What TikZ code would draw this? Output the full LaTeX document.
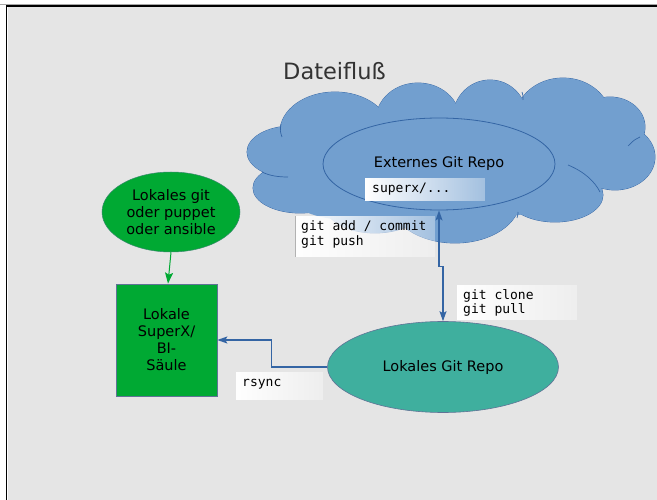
\documentclass[tikz,border=0pt]{standalone}
\usepackage{fontspec}
\setmainfont{DejaVu Sans}
\newfontfamily\dmono{DejaVu Sans Mono}
\usetikzlibrary{shapes.geometric,arrows.meta,fadings}
\definecolor{bgc}{RGB}{229,229,229}
\definecolor{cloudc}{RGB}{114,159,207}
\definecolor{cloudline}{RGB}{52,101,164}
\definecolor{grc}{RGB}{0,169,51}
\definecolor{tealc}{RGB}{63,175,158}
\definecolor{bordc}{RGB}{95,115,150}
\definecolor{titlec}{RGB}{51,51,51}
\tikzfading[name=fadeR, left color=transparent!0, middle color=transparent!0, right color=transparent!65]
\begin{document}
\begin{tikzpicture}[x=1pt,y=-1pt,
  sans/.style={font=\fontsize{14.5}{17}\selectfont, align=center, text=black},
  mono/.style={font=\dmono\fontsize{13}{14.7}\selectfont, align=left, inner sep=0pt, anchor=west, text=black},
  lobe/.style={draw=cloudline, line width=0.8pt},
  lobefill/.style={fill=cloudc},
  crease/.style={draw=cloudline, line width=0.7pt},
  flow/.style={draw=cloudline, line width=1.3pt},
  tipb/.tip={Stealth[length=10pt,width=7pt,inset=2pt]},
  fadebox/.style={fill=white, path fading=fadeR}
]
\useasboundingbox (0,0) rectangle (657,500);
% frame
\fill[white] (0,0) rectangle (657,500);
\fill[bgc] (7.5,7) rectangle (657,500);
\draw[gray!70, line width=0.8pt] (0,4.2) -- (657,4.2);
\draw[black, line width=1.7pt] (6.5,500) -- (6.5,5.8) -- (657,5.8);

% title
\node[font=\fontsize{22.5}{26}\selectfont, text=titlec, anchor=base, inner sep=0pt] (title) at (334.5,80) {Dateifluß};

% cloud: outlines of all lobes, then fills on top
\foreach \cx/\cy/\rx/\ry in {335/132/55/40, 418/120/42/37, 490/118/37/38, 563/120/48/42,
    610/127/35/30, 615/157/40/33, 555/195/48/27, 455/200/65/43, 300/188/47/25,
    292/152/45/26, 375/205/50/28}
  \path[lobe] (\cx,\cy) ellipse [x radius=\rx pt, y radius=\ry pt];
\foreach \cx/\cy/\rx/\ry in {335/132/55/40, 418/120/42/37, 490/118/37/38, 563/120/48/42,
    610/127/35/30, 615/157/40/33, 555/195/48/27, 455/200/65/43, 300/188/47/25,
    292/152/45/26, 375/205/50/28, 450/165/165/55, 350/195/60/25}
  \path[lobefill] (\cx,\cy) ellipse [x radius=\rx pt, y radius=\ry pt];
% creases
\path[crease] (282,137) .. controls (280,131) .. (281,124);
\path[crease] (262,172) .. controls (270,176) and (279,177) .. (288,177);
\path[crease] (522,92) .. controls (523,95) .. (523,100);
\path[crease] (640,137) .. controls (634,140) .. (628,146);
\path[crease] (568,165) .. controls (585,172) and (595,182) .. (600,192);
\path[crease] (518,212) .. controls (518,214) .. (517,218);

% external repo ellipse
\node[ellipse, draw=cloudline, line width=0.8pt, fill=cloudc, minimum width=232pt, minimum height=92pt, inner sep=0pt, sans] (ext) at (439,164) {Externes Git Repo};
\path[fadebox] (365,178) rectangle (485,201);
\node[mono] (sx) at (372,189.5) {superx/...};

% git add label
\path[fadebox] (295,216) rectangle (435,257);
\draw[gray!60, line width=0.6pt] (295.3,216) -- (295.3,257);
\node[mono] (addlbl) at (301,234.5) {git add / commit\\git push};

% local repo
\node[ellipse, draw=bordc, line width=0.6pt, fill=tealc, minimum width=231pt, minimum height=91pt, inner sep=0pt, sans] (loc) at (443,367) {Lokales Git Repo};

% git clone label
\path[fadebox] (457,285) rectangle (577,320);
\node[mono] (clonelbl) at (463,303) {git clone\\git pull};

% double arrow
\draw[flow, tipb-tipb] (ext.south) -- ++(0,56) -| (loc.north);

% green ellipse and box
\node[ellipse, draw=bordc!60!grc, line width=0.5pt, fill=grc, minimum width=138pt, minimum height=80pt, inner sep=0pt, sans] (gell) at (171,212) {Lokales git\\oder puppet\\oder ansible};
\node[rectangle, draw=bordc, line width=0.7pt, fill=grc, minimum width=101pt, minimum height=112pt, inner sep=0pt, sans] (gbox) at (166.5,340) {Lokale\\SuperX/\\BI-\\Säule};
\draw[draw=grc, line width=1pt, -{Stealth[length=11pt,width=8pt,inset=2pt]}] (gell.south) -- ([xshift=1.5pt]gbox.north);

% rsync
\path[fadebox] (236,372) rectangle (323,400);
\node[mono] (rsynclbl) at (242,384) {rsync};
\draw[flow, -tipb] (loc.west) -- ++(-56,0) |- (gbox.east);
\end{tikzpicture}
\end{document}
